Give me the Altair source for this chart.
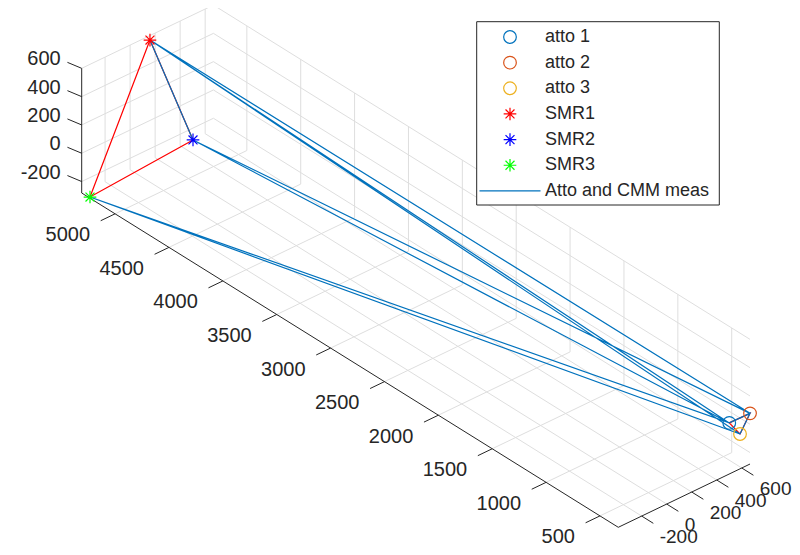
import altair as alt
import pandas as pd

# ---------------- data ----------------
POINT_LABELS = ["atto 1", "atto 2", "atto 3", "SMR1", "SMR2", "SMR3"]
POINT_X = [330, 330, 330, 5272, 5272, 5233]
POINT_Y = [500, 666, 586, 126, 470, -387]
POINT_Z = [80, 77, -35, 600, -252, -273]
POINT_KIND = ["circle", "circle", "circle", "star", "star", "star"]
POINT_COLORS = ["#0072BD", "#D95319", "#EDB120", "#FF0000", "#0000FF", "#00FF00"]

MEAS_LABEL = "Atto and CMM meas"
MEAS_COLOR = "#0072BD"
MEAS_PATH = ["SMR2", "SMR1", "atto 2", "SMR2", "atto 1", "SMR1",
             "atto 3", "SMR3", "atto 1", "atto 2", "atto 3"]
CMM_COLOR = "#FF0000"
CMM_TRIANGLES = [["SMR1", "SMR2", "SMR3", "SMR1"],
                 ["atto 1", "atto 2", "atto 3", "atto 1"]]

X_TICKS = [500, 1000, 1500, 2000, 2500, 3000, 3500, 4000, 4500, 5000]
Y_TICKS = [-200, 0, 200, 400, 600]
Z_TICKS = [-200, 0, 200, 400, 600]
X_LIM = [330, 5310]
Y_LIM = [-387, 666]
Z_LIM = [-281, 600]

# ---------------- view (orthographic 3-D projection) ----------------
W, H, M = 784, 539, 8
ORIGIN = (81.7, 193.0)          # screen spot of corner (xmax, ymin, zmin)
EX = (-0.10775, -0.06713)       # screen shift per unit of x
EY = (0.1251, -0.0601)          # per unit of y
EZ = (0.0, -0.1415)             # per unit of z


def proj(x, y, z):
    dx, dy, dz = x - X_LIM[1], y - Y_LIM[0], z - Z_LIM[0]
    return (ORIGIN[0] + dx * EX[0] + dy * EY[0] + dz * EZ[0],
            ORIGIN[1] + dx * EX[1] + dy * EY[1] + dz * EZ[1])


def seg(p, q):
    a, b = proj(*p), proj(*q)
    return {"x": a[0], "y": a[1], "x2": b[0], "y2": b[1]}


xmin, xmax = X_LIM
ymin, ymax = Y_LIM
zmin, zmax = Z_LIM

grid = []
for xv in X_TICKS:
    grid.append(seg((xv, ymin, zmin), (xv, ymax, zmin)))
    grid.append(seg((xv, ymax, zmin), (xv, ymax, zmax)))
for yv in Y_TICKS:
    grid.append(seg((xmin, yv, zmin), (xmax, yv, zmin)))
    grid.append(seg((xmax, yv, zmin), (xmax, yv, zmax)))
for zv in Z_TICKS:
    grid.append(seg((xmax, ymin, zv), (xmax, ymax, zv)))
    grid.append(seg((xmin, ymax, zv), (xmax, ymax, zv)))
df_grid = pd.DataFrame(grid)

axes = [seg((xmax, ymin, zmin), (xmin, ymin, zmin)),
        seg((xmin, ymin, zmin), (xmin, ymax, zmin)),
        seg((xmax, ymin, zmin), (xmax, ymin, zmax))]
for xv in X_TICKS:
    axes.append(seg((xv, ymin, zmin), (xv, ymin - 115, zmin)))
for yv in Y_TICKS:
    axes.append(seg((xmin, yv, zmin), (xmin - 108, yv, zmin)))
for zv in Z_TICKS:
    axes.append(seg((xmax, ymin, zv), (xmax + 108, ymin - 21, zv)))
df_axes = pd.DataFrame(axes)

df_xl = pd.DataFrame([{"x": proj(v, ymin, zmin)[0], "y": proj(v, ymin, zmin)[1], "t": str(v)} for v in X_TICKS])
df_yl = pd.DataFrame([{"x": proj(xmin, v, zmin)[0], "y": proj(xmin, v, zmin)[1], "t": str(v)} for v in Y_TICKS])
df_zl = pd.DataFrame([{"x": proj(xmax, ymin, v)[0], "y": proj(xmax, ymin, v)[1], "t": str(v)} for v in Z_TICKS])

pos = {n: proj(x, y, z) for n, x, y, z in zip(POINT_LABELS, POINT_X, POINT_Y, POINT_Z)}

STAR = ("M-1,0L1,0M0,-1L0,1M-0.7071,-0.7071L0.7071,0.7071"
        "M-0.7071,0.7071L0.7071,-0.7071")
shape_of = {"circle": "circle", "star": STAR}

df_pts = pd.DataFrame({
    "x": [pos[n][0] for n in POINT_LABELS],
    "y": [pos[n][1] for n in POINT_LABELS],
    "color": POINT_COLORS,
    "shape": [shape_of[k] for k in POINT_KIND],
    "label": POINT_LABELS,
})

df_meas = pd.DataFrame({"x": [pos[n][0] for n in MEAS_PATH],
                        "y": [pos[n][1] for n in MEAS_PATH],
                        "i": list(range(len(MEAS_PATH)))})
rows = []
for g, tri in enumerate(CMM_TRIANGLES):
    for i, n in enumerate(tri):
        rows.append({"x": pos[n][0], "y": pos[n][1], "g": g, "i": i})
df_cmm = pd.DataFrame(rows)

# ---------------- legend layout ----------------
LEG_BOX = (476.7, 21.7, 719.3, 205.0)
LEG_ROW0, LEG_STEP = 37.0, 25.65
LEG_SYM_X, LEG_TXT_X = 510.0, 545.0
LEG_LINE = (479.5, 540.5)

n_items = len(POINT_LABELS) + 1
df_leg_box = pd.DataFrame([{"x": LEG_BOX[0], "y": LEG_BOX[1], "x2": LEG_BOX[2], "y2": LEG_BOX[3]}])
df_leg_sym = pd.DataFrame({
    "x": [LEG_SYM_X] * len(POINT_LABELS),
    "y": [LEG_ROW0 + k * LEG_STEP for k in range(len(POINT_LABELS))],
    "color": POINT_COLORS,
    "shape": [shape_of[k] for k in POINT_KIND],
})
df_leg_txt = pd.DataFrame({
    "x": [LEG_TXT_X] * n_items,
    "y": [LEG_ROW0 + k * LEG_STEP for k in range(n_items)],
    "t": POINT_LABELS + [MEAS_LABEL],
})
ly = LEG_ROW0 + (n_items - 1) * LEG_STEP
df_leg_line = pd.DataFrame([{"x": LEG_LINE[0], "y": ly, "x2": LEG_LINE[1], "y2": ly}])

# ---------------- chart ----------------
XS = alt.Scale(domain=[M, M + W], nice=False, zero=False)
YS = alt.Scale(domain=[M, M + H], nice=False, zero=False, reverse=True)
FONT = "Liberation Sans, Arial, Helvetica, sans-serif"
AX = "#262626"


def X(f="x"):
    return alt.X(f, type="quantitative", scale=XS, axis=None)


def Y(f="y"):
    return alt.Y(f, type="quantitative", scale=YS, axis=None)


def rules(df, color, width):
    return alt.Chart(df).mark_rule(color=color, strokeWidth=width).encode(
        x=X(), y=Y(), x2="x2:Q", y2="y2:Q")


grid_l = rules(df_grid, "#dedede", 1)
axes_l = rules(df_axes, AX, 1)

xl = alt.Chart(df_xl).mark_text(font=FONT, fontSize=20, color=AX, align="right",
                                baseline="middle", dx=-25, dy=21.5).encode(x=X(), y=Y(), text="t:N")
yl = alt.Chart(df_yl).mark_text(font=FONT, fontSize=19, color=AX, align="left",
                                baseline="middle", dx=18, dy=21).encode(x=X(), y=Y(), text="t:N")
zl = alt.Chart(df_zl).mark_text(font=FONT, fontSize=20, color=AX, align="right",
                                baseline="middle", dx=-21, dy=-9).encode(x=X(), y=Y(), text="t:N")

cmm_l = alt.Chart(df_cmm).mark_line(color=CMM_COLOR, strokeWidth=1.2).encode(
    x=X(), y=Y(), detail="g:N", order="i:Q")
meas_l = alt.Chart(df_meas).mark_line(color=MEAS_COLOR, strokeWidth=1.2).encode(
    x=X(), y=Y(), order="i:Q")

pts_l = alt.Chart(df_pts).mark_point(filled=False, strokeWidth=1.2, opacity=1, size=160).encode(
    x=X(), y=Y(),
    color=alt.Color("color:N", scale=None),
    shape=alt.Shape("shape:N", scale=None))

leg_box = alt.Chart(df_leg_box).mark_rect(fill="white", stroke=AX, strokeWidth=1).encode(
    x=X(), y=Y(), x2="x2:Q", y2="y2:Q")
leg_line = rules(df_leg_line, MEAS_COLOR, 1.2)
leg_sym = alt.Chart(df_leg_sym).mark_point(filled=False, strokeWidth=1.2, opacity=1, size=160).encode(
    x=X(), y=Y(),
    color=alt.Color("color:N", scale=None),
    shape=alt.Shape("shape:N", scale=None))
leg_txt = alt.Chart(df_leg_txt).mark_text(font=FONT, fontSize=18, color=AX, align="left",
                                          baseline="middle").encode(x=X(), y=Y(), text="t:N")

chart = alt.layer(
    grid_l, axes_l, xl, yl, zl, cmm_l, meas_l, pts_l,
    leg_box, leg_line, leg_sym, leg_txt,
).properties(
    width=W, height=H, padding=0,
    autosize=alt.AutoSizeParams(type="none"),
).configure_view(strokeWidth=0)

chart.save("out.html", embed_options={"renderer": "svg", "actions": False})
